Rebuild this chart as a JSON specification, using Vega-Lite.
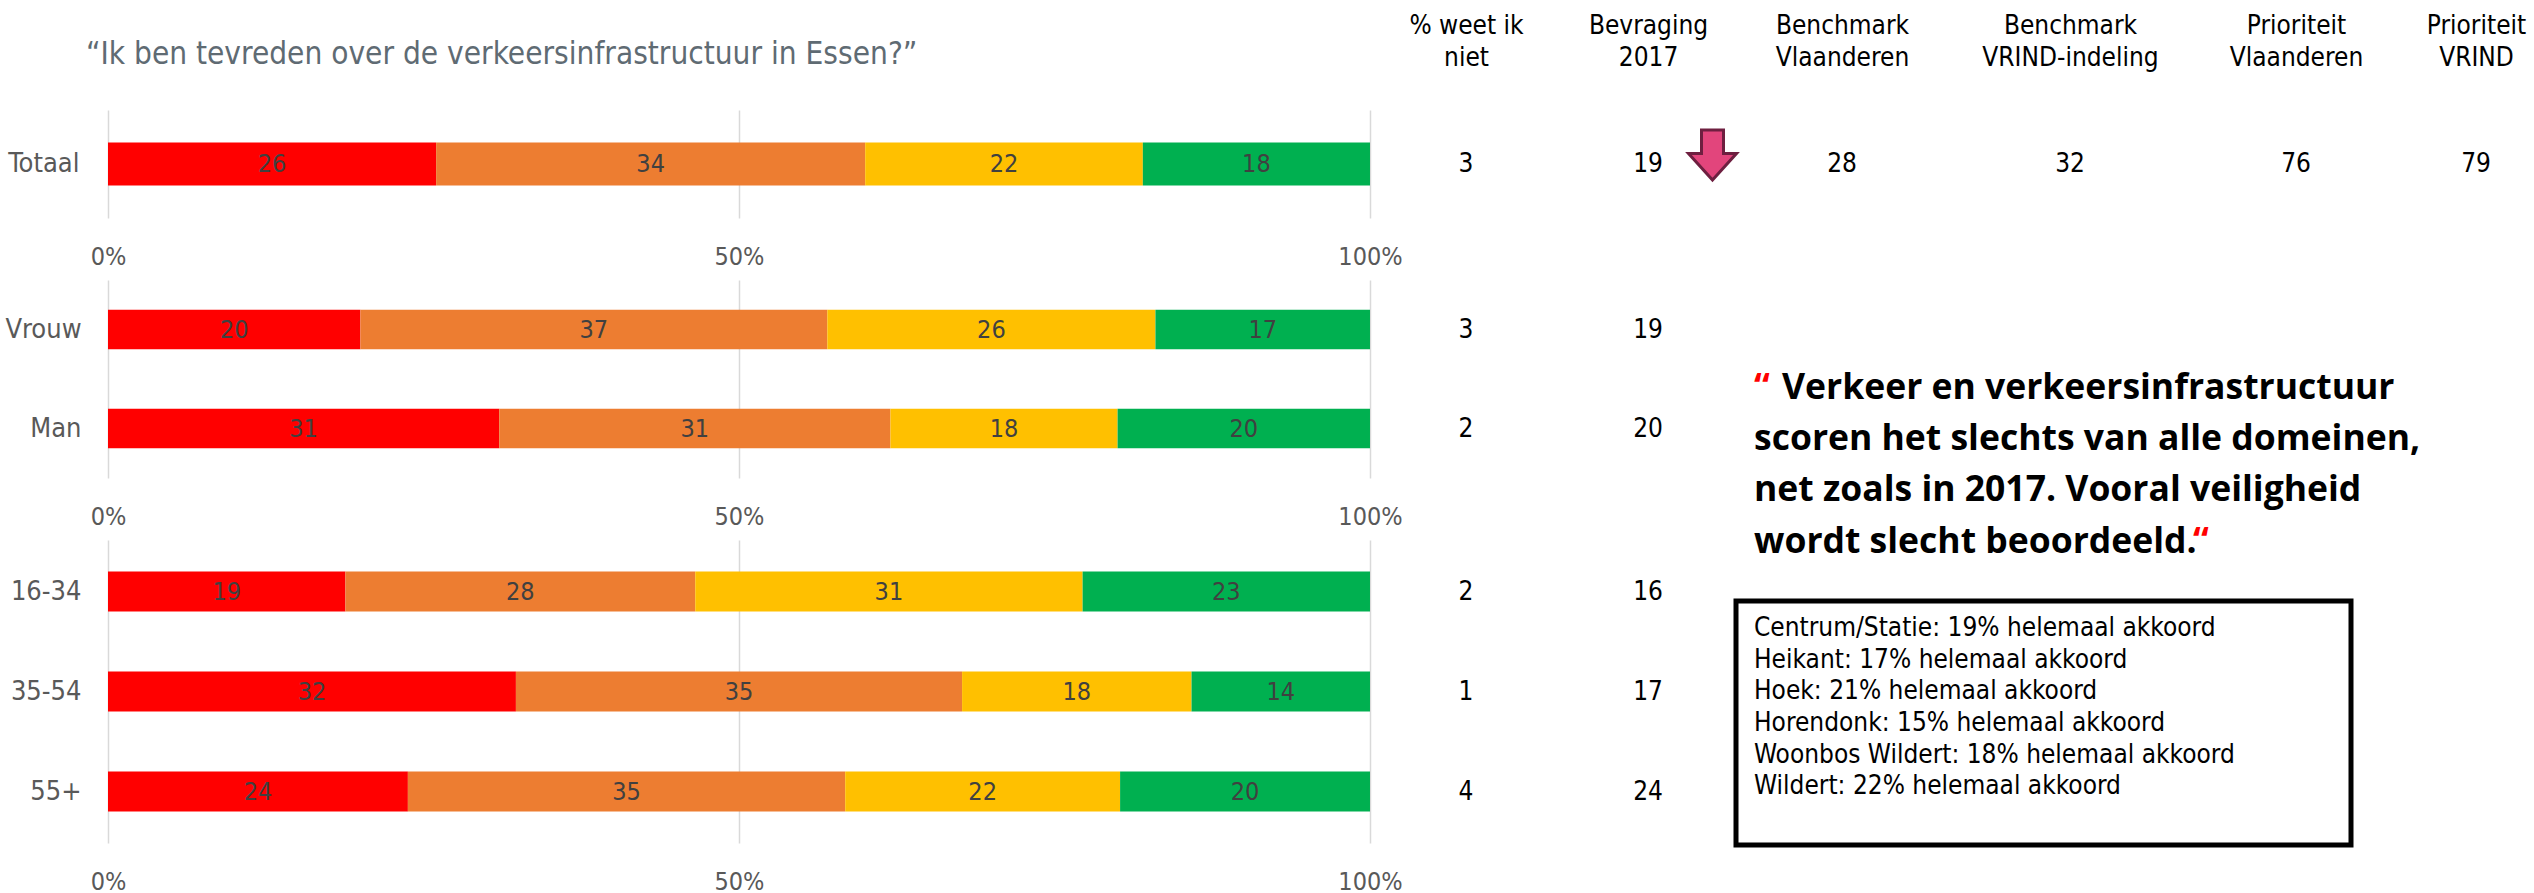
{
  "$schema": "https://vega.github.io/schema/vega-lite/v6.json",
  "background": "white",
  "autosize": {"type": "pad"},
  "padding": {"left": 4, "top": 12, "right": 0, "bottom": 0},
  "config": {
    "font": "DejaVu Sans Condensed, Liberation Sans, sans-serif",
    "view": {"stroke": null}
  },
  "title": {
    "text": "“Ik ben tevreden over de verkeersinfrastructuur in Essen?”",
    "anchor": "start",
    "frame": "bounds",
    "fontSize": 31.3,
    "fontWeight": "normal",
    "color": "#5F6B73",
    "offset": -58,
    "dx": 81
  },
  "datasets": {
    "antwoorden": [
      {"indeling": "Totaal", "groep": "Totaal", "niveau": 1, "antwoord": "helemaal niet akkoord", "pct": 26},
      {"indeling": "Totaal", "groep": "Totaal", "niveau": 2, "antwoord": "niet akkoord", "pct": 34},
      {"indeling": "Totaal", "groep": "Totaal", "niveau": 3, "antwoord": "akkoord", "pct": 22},
      {"indeling": "Totaal", "groep": "Totaal", "niveau": 4, "antwoord": "helemaal akkoord", "pct": 18},
      {"indeling": "Geslacht", "groep": "Vrouw", "niveau": 1, "antwoord": "helemaal niet akkoord", "pct": 20},
      {"indeling": "Geslacht", "groep": "Vrouw", "niveau": 2, "antwoord": "niet akkoord", "pct": 37},
      {"indeling": "Geslacht", "groep": "Vrouw", "niveau": 3, "antwoord": "akkoord", "pct": 26},
      {"indeling": "Geslacht", "groep": "Vrouw", "niveau": 4, "antwoord": "helemaal akkoord", "pct": 17},
      {"indeling": "Geslacht", "groep": "Man", "niveau": 1, "antwoord": "helemaal niet akkoord", "pct": 31},
      {"indeling": "Geslacht", "groep": "Man", "niveau": 2, "antwoord": "niet akkoord", "pct": 31},
      {"indeling": "Geslacht", "groep": "Man", "niveau": 3, "antwoord": "akkoord", "pct": 18},
      {"indeling": "Geslacht", "groep": "Man", "niveau": 4, "antwoord": "helemaal akkoord", "pct": 20},
      {"indeling": "Leeftijd", "groep": "16-34", "niveau": 1, "antwoord": "helemaal niet akkoord", "pct": 19},
      {"indeling": "Leeftijd", "groep": "16-34", "niveau": 2, "antwoord": "niet akkoord", "pct": 28},
      {"indeling": "Leeftijd", "groep": "16-34", "niveau": 3, "antwoord": "akkoord", "pct": 31},
      {"indeling": "Leeftijd", "groep": "16-34", "niveau": 4, "antwoord": "helemaal akkoord", "pct": 23},
      {"indeling": "Leeftijd", "groep": "35-54", "niveau": 1, "antwoord": "helemaal niet akkoord", "pct": 32},
      {"indeling": "Leeftijd", "groep": "35-54", "niveau": 2, "antwoord": "niet akkoord", "pct": 35},
      {"indeling": "Leeftijd", "groep": "35-54", "niveau": 3, "antwoord": "akkoord", "pct": 18},
      {"indeling": "Leeftijd", "groep": "35-54", "niveau": 4, "antwoord": "helemaal akkoord", "pct": 14},
      {"indeling": "Leeftijd", "groep": "55+", "niveau": 1, "antwoord": "helemaal niet akkoord", "pct": 24},
      {"indeling": "Leeftijd", "groep": "55+", "niveau": 2, "antwoord": "niet akkoord", "pct": 35},
      {"indeling": "Leeftijd", "groep": "55+", "niveau": 3, "antwoord": "akkoord", "pct": 22},
      {"indeling": "Leeftijd", "groep": "55+", "niveau": 4, "antwoord": "helemaal akkoord", "pct": 20}
    ],
    "tabel": [
      {"indeling": "Totaal", "groep": "Totaal", "kolom": "% weet ik niet", "waarde": 3},
      {"indeling": "Totaal", "groep": "Totaal", "kolom": "Bevraging 2017", "waarde": 19, "trend": "daling"},
      {"indeling": "Totaal", "groep": "Totaal", "kolom": "Benchmark Vlaanderen", "waarde": 28},
      {"indeling": "Totaal", "groep": "Totaal", "kolom": "Benchmark VRIND-indeling", "waarde": 32},
      {"indeling": "Totaal", "groep": "Totaal", "kolom": "Prioriteit Vlaanderen", "waarde": 76},
      {"indeling": "Totaal", "groep": "Totaal", "kolom": "Prioriteit VRIND", "waarde": 79},
      {"indeling": "Geslacht", "groep": "Vrouw", "kolom": "% weet ik niet", "waarde": 3},
      {"indeling": "Geslacht", "groep": "Vrouw", "kolom": "Bevraging 2017", "waarde": 19},
      {"indeling": "Geslacht", "groep": "Man", "kolom": "% weet ik niet", "waarde": 2},
      {"indeling": "Geslacht", "groep": "Man", "kolom": "Bevraging 2017", "waarde": 20},
      {"indeling": "Leeftijd", "groep": "16-34", "kolom": "% weet ik niet", "waarde": 2},
      {"indeling": "Leeftijd", "groep": "16-34", "kolom": "Bevraging 2017", "waarde": 16},
      {"indeling": "Leeftijd", "groep": "35-54", "kolom": "% weet ik niet", "waarde": 1},
      {"indeling": "Leeftijd", "groep": "35-54", "kolom": "Bevraging 2017", "waarde": 17},
      {"indeling": "Leeftijd", "groep": "55+", "kolom": "% weet ik niet", "waarde": 4},
      {"indeling": "Leeftijd", "groep": "55+", "kolom": "Bevraging 2017", "waarde": 24}
    ],
    "citaat": [
      {"kader": "Citaat", "regel": 1, "soort": "openingsteken", "tekst": "“"},
      {"kader": "Citaat", "regel": 1, "soort": "tekst", "tekst": "Verkeer en verkeersinfrastructuur"},
      {"kader": "Citaat", "regel": 2, "soort": "tekst", "tekst": "scoren het slechts van alle domeinen,"},
      {"kader": "Citaat", "regel": 3, "soort": "tekst", "tekst": "net zoals in 2017. Vooral veiligheid"},
      {"kader": "Citaat", "regel": 4, "soort": "tekst", "tekst": "wordt slecht beoordeeld."},
      {"kader": "Citaat", "regel": 4, "soort": "sluitteken", "tekst": "“"}
    ],
    "deelgemeenten": [
      {"kader": "Helemaal akkoord per deelgemeente", "deelgemeente": "Centrum/Statie", "pct": 19, "tekst": "Centrum/Statie: 19% helemaal akkoord"},
      {"kader": "Helemaal akkoord per deelgemeente", "deelgemeente": "Heikant", "pct": 17, "tekst": "Heikant: 17% helemaal akkoord"},
      {"kader": "Helemaal akkoord per deelgemeente", "deelgemeente": "Hoek", "pct": 21, "tekst": "Hoek: 21% helemaal akkoord"},
      {"kader": "Helemaal akkoord per deelgemeente", "deelgemeente": "Horendonk", "pct": 15, "tekst": "Horendonk: 15% helemaal akkoord"},
      {"kader": "Helemaal akkoord per deelgemeente", "deelgemeente": "Woonbos Wildert", "pct": 18, "tekst": "Woonbos Wildert: 18% helemaal akkoord"},
      {"kader": "Helemaal akkoord per deelgemeente", "deelgemeente": "Wildert", "pct": 22, "tekst": "Wildert: 22% helemaal akkoord"}
    ]
  },
  "spacing": 62,
  "bounds": "flush",
  "vconcat": [
    {
      "width": 2420,
      "height": 108,
      "layer": [
        {
          "data": {"name": "antwoorden"},
          "transform": [{"filter": "datum.indeling === 'Totaal'"}],
          "encoding": {
            "y": {"field": "groep", "type": "nominal", "title": null, "scale": {"domain": ["Totaal"], "paddingInner": 0.6, "paddingOuter": 0.3},
                  "axis": {"domain": false, "ticks": false, "labelFontSize": 27, "labelColor": "#595959", "labelPadding": 29}},
            "x": {"field": "pct", "type": "quantitative", "stack": "normalize", "title": null, "scale": {"domain": [0, 1.9176], "nice": false},
                  "axis": {"orient": "bottom", "values": [0, 0.5, 1], "labelExpr": "format(datum.value, '.0%')", "grid": true, "gridColor": "#D9D9D9", "gridWidth": 1.5, "domain": false, "ticks": false, "labelFontSize": 25, "labelColor": "#595959", "labelPadding": 26, "labelFlush": false}},
            "order": {"field": "niveau", "type": "quantitative"}
          },
          "layer": [
            {"mark": {"type": "bar"},
             "encoding": {"color": {"field": "antwoord", "type": "nominal", "legend": null,
               "scale": {"domain": ["helemaal niet akkoord", "niet akkoord", "akkoord", "helemaal akkoord"], "range": ["#FF0000", "#ED7D31", "#FFC000", "#00B050"]}}}},
            {"mark": {"type": "text", "fontSize": 25, "color": "#404040", "baseline": "middle"},
             "encoding": {
               "x": {"field": "pct", "type": "quantitative", "stack": "normalize", "bandPosition": 0.5, "scale": {"domain": [0, 1.9176], "nice": false}},
               "detail": {"field": "antwoord"},
               "text": {"field": "pct", "type": "quantitative"}}}
          ]
        },
        {
          "data": {"name": "tabel"},
          "transform": [{"filter": "datum.indeling === 'Totaal'"}, {"filter": {"field": "kolom", "oneOf": ["% weet ik niet", "Bevraging 2017"]}}],
          "encoding": {
            "x": {"field": "kolom", "type": "nominal", "title": null,
                  "scale": {"type": "point", "domain": ["% weet ik niet", "Bevraging 2017"], "padding": 0, "range": [1358, 1540]},
                  "axis": {"orient": "top", "domain": false, "ticks": false, "labelFontSize": 26, "labelColor": "black", "labelPadding": 72, "labelLineHeight": 32, "labelLimit": 0, "labelOverlap": false, "labelAngle": 0,
                           "labelExpr": "datum.label === '% weet ik niet' ? ['% weet ik', 'niet'] : split(datum.label, ' ')"}},
            "y": {"field": "groep", "type": "nominal", "scale": {"domain": ["Totaal"], "paddingInner": 0.6, "paddingOuter": 0.3}}
          },
          "layer": [
            {"mark": {"type": "text", "fontSize": 26, "color": "black", "baseline": "middle"},
             "encoding": {"text": {"field": "waarde", "type": "quantitative"}}},
            {"transform": [{"filter": "datum.trend === 'daling'"}],
             "mark": {"type": "point", "shape": "M2.14,-1.36L3.02,-1.36L3.02,-0.42L3.54,-0.42L2.58,0.64L1.62,-0.42L2.14,-0.42Z", "size": 2500, "filled": true, "fill": "#E2457C", "stroke": "#6E1F40", "strokeWidth": 3, "opacity": 1}}
          ]
        },
        {
          "data": {"name": "tabel"},
          "transform": [{"filter": "datum.indeling === 'Totaal'"}, {"filter": {"field": "kolom", "oneOf": ["Benchmark Vlaanderen", "Benchmark VRIND-indeling"]}}],
          "mark": {"type": "text", "fontSize": 26, "color": "black", "baseline": "middle"},
          "encoding": {
            "x": {"field": "kolom", "type": "nominal", "title": null,
                  "scale": {"type": "point", "domain": ["Benchmark Vlaanderen", "Benchmark VRIND-indeling"], "padding": 0, "range": [1734, 1962]},
                  "axis": {"orient": "top", "domain": false, "ticks": false, "labelFontSize": 26, "labelColor": "black", "labelPadding": 72, "labelLineHeight": 32, "labelLimit": 0, "labelOverlap": false, "labelAngle": 0,
                           "labelExpr": "split(datum.label, ' ')"}},
            "y": {"field": "groep", "type": "nominal", "scale": {"domain": ["Totaal"], "paddingInner": 0.6, "paddingOuter": 0.3}},
            "text": {"field": "waarde", "type": "quantitative"}
          }
        },
        {
          "data": {"name": "tabel"},
          "transform": [{"filter": "datum.indeling === 'Totaal'"}, {"filter": {"field": "kolom", "oneOf": ["Prioriteit Vlaanderen", "Prioriteit VRIND"]}}],
          "mark": {"type": "text", "fontSize": 26, "color": "black", "baseline": "middle"},
          "encoding": {
            "x": {"field": "kolom", "type": "nominal", "title": null,
                  "scale": {"type": "point", "domain": ["Prioriteit Vlaanderen", "Prioriteit VRIND"], "padding": 0, "range": [2188, 2368]},
                  "axis": {"orient": "top", "domain": false, "ticks": false, "labelFontSize": 26, "labelColor": "black", "labelPadding": 72, "labelLineHeight": 32, "labelLimit": 0, "labelOverlap": false, "labelAngle": 0,
                           "labelExpr": "split(datum.label, ' ')"}},
            "y": {"field": "groep", "type": "nominal", "scale": {"domain": ["Totaal"], "paddingInner": 0.6, "paddingOuter": 0.3}},
            "text": {"field": "waarde", "type": "quantitative"}
          }
        }
      ],
      "resolve": {"scale": {"x": "independent"}, "axis": {"x": "independent"}}
    },
    {
      "width": 2420,
      "height": 198,
      "layer": [
        {
          "layer": [
            {
              "data": {"name": "antwoorden"},
              "transform": [{"filter": "datum.indeling === 'Geslacht'"}],
              "encoding": {
                "y": {"field": "groep", "type": "nominal", "title": null, "scale": {"domain": ["Vrouw", "Man"], "paddingInner": 0.6, "paddingOuter": 0.3},
                      "axis": {"domain": false, "ticks": false, "labelFontSize": 27, "labelColor": "#595959", "labelPadding": 27}},
                "x": {"field": "pct", "type": "quantitative", "stack": "normalize", "title": null, "scale": {"domain": [0, 1.9176], "nice": false},
                      "axis": {"orient": "bottom", "values": [0, 0.5, 1], "labelExpr": "format(datum.value, '.0%')", "grid": true, "gridColor": "#D9D9D9", "gridWidth": 1.5, "domain": false, "ticks": false, "labelFontSize": 25, "labelColor": "#595959", "labelPadding": 26, "labelFlush": false}},
                "order": {"field": "niveau", "type": "quantitative"}
              },
              "layer": [
                {"mark": {"type": "bar"},
                 "encoding": {"color": {"field": "antwoord", "type": "nominal", "legend": null,
                   "scale": {"domain": ["helemaal niet akkoord", "niet akkoord", "akkoord", "helemaal akkoord"], "range": ["#FF0000", "#ED7D31", "#FFC000", "#00B050"]}}}},
                {"mark": {"type": "text", "fontSize": 25, "color": "#404040", "baseline": "middle"},
                 "encoding": {
                   "x": {"field": "pct", "type": "quantitative", "stack": "normalize", "bandPosition": 0.5, "scale": {"domain": [0, 1.9176], "nice": false}},
                   "detail": {"field": "antwoord"},
                   "text": {"field": "pct", "type": "quantitative"}}}
              ]
            },
            {
              "data": {"name": "tabel"},
              "transform": [{"filter": "datum.indeling === 'Geslacht'"}],
              "mark": {"type": "text", "fontSize": 26, "color": "black", "baseline": "middle"},
              "encoding": {
                "x": {"field": "kolom", "type": "nominal", "title": null,
                      "scale": {"type": "point", "domain": ["% weet ik niet", "Bevraging 2017"], "padding": 0, "range": [1358, 1540]}, "axis": null},
                "y": {"field": "groep", "type": "nominal", "scale": {"domain": ["Vrouw", "Man"], "paddingInner": 0.6, "paddingOuter": 0.3}},
                "text": {"field": "waarde", "type": "quantitative"}
              }
            }
          ],
          "resolve": {"scale": {"x": "independent"}, "axis": {"x": "independent"}}
        },
        {
          "data": {"name": "citaat"},
          "encoding": {
            "x": {"field": "kader", "type": "nominal", "scale": {"type": "point", "padding": 0.5, "align": 0.68017}, "axis": null},
            "y": {"field": "regel", "type": "quantitative", "scale": {"domain": [-1.301, 2.5437], "reverse": true, "nice": false, "zero": false}, "axis": null},
            "text": {"field": "tekst"}
          },
          "layer": [
            {"transform": [{"filter": "datum.soort === 'tekst' && datum.regel === 1"}],
             "mark": {"type": "text", "align": "left", "baseline": "alphabetic", "font": "Open Sans", "fontWeight": "bold", "fontSize": 35.5, "color": "black", "dx": 28}},
            {"transform": [{"filter": "datum.soort === 'tekst' && datum.regel > 1"}],
             "mark": {"type": "text", "align": "left", "baseline": "alphabetic", "font": "Open Sans", "fontWeight": "bold", "fontSize": 35.5, "color": "black"}},
            {"transform": [{"filter": "datum.soort === 'openingsteken'"}],
             "mark": {"type": "text", "align": "left", "baseline": "alphabetic", "font": "Open Sans", "fontWeight": "bold", "fontSize": 35.5, "color": "#FF0000"}},
            {"transform": [{"filter": "datum.soort === 'sluitteken'"}],
             "mark": {"type": "text", "align": "left", "baseline": "alphabetic", "font": "Open Sans", "fontWeight": "bold", "fontSize": 35.5, "color": "#FF0000", "dx": 439}}
          ]
        }
      ],
      "resolve": {"scale": {"x": "independent", "y": "independent"}, "axis": {"x": "independent", "y": "independent"}}
    },
    {
      "width": 2420,
      "height": 303,
      "layer": [
        {
          "layer": [
            {
              "data": {"name": "antwoorden"},
              "transform": [{"filter": "datum.indeling === 'Leeftijd'"}],
              "encoding": {
                "y": {"field": "groep", "type": "nominal", "title": null, "scale": {"domain": ["16-34", "35-54", "55+"], "paddingInner": 0.6, "paddingOuter": 0.315},
                      "axis": {"domain": false, "ticks": false, "labelFontSize": 27, "labelColor": "#595959", "labelPadding": 27}},
                "x": {"field": "pct", "type": "quantitative", "stack": "normalize", "title": null, "scale": {"domain": [0, 1.9176], "nice": false},
                      "axis": {"orient": "bottom", "values": [0, 0.5, 1], "labelExpr": "format(datum.value, '.0%')", "grid": true, "gridColor": "#D9D9D9", "gridWidth": 1.5, "domain": false, "ticks": false, "labelFontSize": 25, "labelColor": "#595959", "labelPadding": 26, "labelFlush": false}},
                "order": {"field": "niveau", "type": "quantitative"}
              },
              "layer": [
                {"mark": {"type": "bar"},
                 "encoding": {"color": {"field": "antwoord", "type": "nominal", "legend": null,
                   "scale": {"domain": ["helemaal niet akkoord", "niet akkoord", "akkoord", "helemaal akkoord"], "range": ["#FF0000", "#ED7D31", "#FFC000", "#00B050"]}}}},
                {"mark": {"type": "text", "fontSize": 25, "color": "#404040", "baseline": "middle"},
                 "encoding": {
                   "x": {"field": "pct", "type": "quantitative", "stack": "normalize", "bandPosition": 0.5, "scale": {"domain": [0, 1.9176], "nice": false}},
                   "detail": {"field": "antwoord"},
                   "text": {"field": "pct", "type": "quantitative"}}}
              ]
            },
            {
              "data": {"name": "tabel"},
              "transform": [{"filter": "datum.indeling === 'Leeftijd'"}],
              "mark": {"type": "text", "fontSize": 26, "color": "black", "baseline": "middle"},
              "encoding": {
                "x": {"field": "kolom", "type": "nominal", "title": null,
                      "scale": {"type": "point", "domain": ["% weet ik niet", "Bevraging 2017"], "padding": 0, "range": [1358, 1540]}, "axis": null},
                "y": {"field": "groep", "type": "nominal", "scale": {"domain": ["16-34", "35-54", "55+"], "paddingInner": 0.6, "paddingOuter": 0.315}},
                "text": {"field": "waarde", "type": "quantitative"}
              }
            }
          ],
          "resolve": {"scale": {"x": "independent"}, "axis": {"x": "independent"}}
        },
        {
          "data": {"name": "deelgemeenten"},
          "layer": [
            {"transform": [{"aggregate": [{"op": "count", "as": "aantal"}], "groupby": ["kader"]}],
             "mark": {"type": "rect", "fill": "white", "stroke": "black", "strokeWidth": 5},
             "encoding": {
               "x": {"field": "kader", "type": "nominal", "scale": {"type": "band", "paddingInner": 0, "paddingOuter": 0, "range": [1628, 2243]}, "axis": null},
               "y": {"field": "kader", "type": "nominal", "scale": {"type": "band", "paddingInner": 0, "paddingOuter": 0, "range": [61, 305]}, "axis": null}
             }},
            {"mark": {"type": "text", "align": "left", "baseline": "middle", "fontSize": 26, "color": "black"},
             "encoding": {
               "x": {"field": "kader", "type": "nominal", "scale": {"type": "point", "padding": 0.5, "align": 0.68017}, "axis": null},
               "y": {"field": "deelgemeente", "type": "nominal", "sort": null, "scale": {"type": "band", "paddingInner": 0, "paddingOuter": 0, "range": [72, 262]}, "axis": null},
               "text": {"field": "tekst"}
             }}
          ],
          "resolve": {"scale": {"x": "independent", "y": "independent"}, "axis": {"x": "independent", "y": "independent"}}
        }
      ],
      "resolve": {"scale": {"x": "independent", "y": "independent"}, "axis": {"x": "independent", "y": "independent"}}
    }
  ]
}
